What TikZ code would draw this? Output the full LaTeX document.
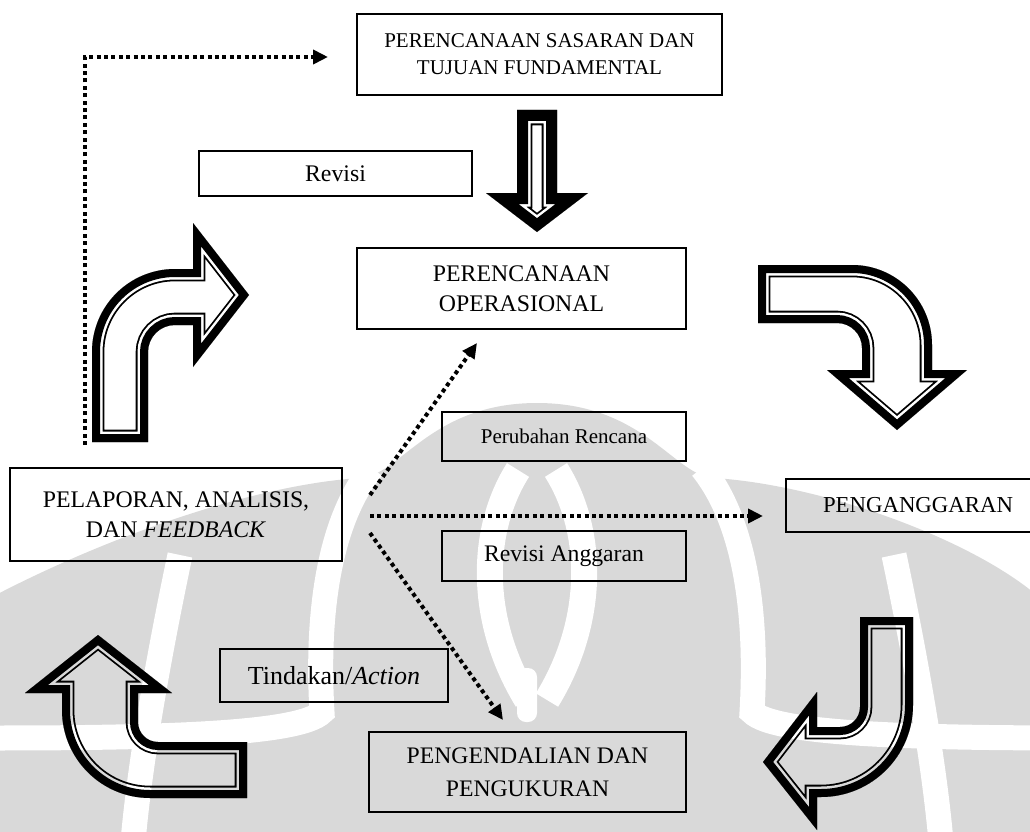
\documentclass[tikz,border=0pt]{standalone}
\usepackage{fontspec}
\setmainfont{Liberation Serif}
\usetikzlibrary{arrows.meta}
\newcommand\setfs[2]{\fontsize{#1}{#2}\selectfont}
% hollow block arrow: thick black rim, thin white gap, thin black inner line
\newcommand\hollowarrow[2]{%
  \begin{scope}
    \clip #2;
    \fill[white] #2;
    \draw[line width={2*(#1+4.3)}, line join=miter, miter limit=30] #2;
    \draw[white, line width={2*(#1+2.5)}, line join=miter, miter limit=30] #2;
    \draw[line width={2*#1}, line join=miter, miter limit=30] #2;
  \end{scope}}
\begin{document}
\begin{tikzpicture}[x=1pt,y=-1pt,
  box/.style={draw=black, line width=1.4pt, fill=white, inner sep=0pt, align=center},
  flow/.style={line width=4pt, dash pattern=on 4pt off 3.4pt,
               -{Triangle[length=15pt,width=14pt]}},
  band/.style={white, line width=25pt}
]
\useasboundingbox (0,0) rectangle (1030,832);
\clip (0,0) rectangle (1030,832);

% ---------- text boxes ----------
\node[box, minimum width=365pt, minimum height=81pt, font=\setfs{21}{27}] (goal) at (539.5,54.5)
  {PERENCANAAN SASARAN DAN\\TUJUAN FUNDAMENTAL};
\node[box, minimum width=273pt, minimum height=45pt, font=\setfs{23.8}{30}] (rev) at (335.5,173.5) {Revisi};
\node[box, minimum width=329pt, minimum height=81pt, font=\setfs{23.8}{30}] (ops) at (521.5,288.5)
  {PERENCANAAN\\OPERASIONAL};
\node[box, minimum width=332pt, minimum height=93pt, font=\setfs{23.8}{30}] (rep) at (176,514.5)
  {PELAPORAN, ANALISIS,\\DAN \textit{FEEDBACK}};
\node[box, minimum width=244pt, minimum height=49pt, font=\setfs{21}{26}] (chg) at (564,436.5) {Perubahan Rencana};
\node[box, minimum width=244pt, minimum height=50pt, font=\setfs{23.7}{30}] (brev) at (564,556) {Revisi Anggaran};
\node[box, minimum width=264pt, minimum height=53pt, font=\setfs{22.8}{28}] (bud) at (918,505.5) {PENGANGGARAN};
\node[box, minimum width=228pt, minimum height=53pt, font=\setfs{26}{32}] (act) at (334,675.5) {Tindakan/\textit{Action}};
\node[box, minimum width=317pt, minimum height=80pt, font=\setfs{23.7}{33}] (ctl) at (527.5,772)
  {PENGENDALIAN DAN\\PENGUKURAN};

% ---------- dotted feedback connectors ----------
\coordinate (fbA) at (85,445);
\coordinate (fbB) at (328,57);
\coordinate (s1) at (370,495);
\coordinate (e1) at (477,343);
\coordinate (s2) at (370,516);
\coordinate (e2) at (763,516);
\coordinate (s3) at (370,533);
\coordinate (e3) at (503,720);
\draw[flow] (fbA) |- (fbB);
\draw[flow] (s1) -- (e1);
\draw[flow] (s2) -- (e2);
\draw[flow] (s3) -- (e3);

% ---------- block arrows of the cycle ----------
% straight arrow: goals -> operational planning
\hollowarrow{11}{(517,110) -- (557,110) -- (557,193) -- (588,193) -- (537,232) -- (486,193) -- (517,193) -- cycle}
% turn right: reporting -> planning
\hollowarrow{8}{(92,442) -- (92,352) arc[start angle=180,end angle=270,radius=83] -- (193,269) -- (193,223)
  -- (249,295) -- (193,367) -- (193,325) -- (175,325) arc[start angle=270,end angle=180,radius=27] -- (148,442) -- cycle}
% turn down: planning -> budgeting
\hollowarrow{8}{(758,265) -- (852,265) arc[start angle=270,end angle=360,radius=80] -- (932,370) -- (967,370)
  -- (897,430) -- (827,370) -- (862,370) -- (862,348) arc[start angle=0,end angle=-90,radius=25] -- (758,323) -- cycle}
% hook left: budgeting -> control
\hollowarrow{8}{(860,617) -- (913,617) -- (913,705) arc[start angle=0,end angle=90,radius=92] -- (817,797)
  -- (817,830) -- (763,762) -- (817,692) -- (817,727) -- (840,727) arc[start angle=90,end angle=0,radius=20] -- cycle}
% turn up: control -> reporting
\hollowarrow{8}{(98,635) -- (172,693) -- (138,693) -- (138,722) arc[start angle=180,end angle=90,radius=20]
  -- (247,742) -- (247,798) -- (150,798) arc[start angle=90,end angle=180,radius=88] -- (62,693) -- (25,693) -- cycle}

% ---------- faint emblem in the background ----------
\begin{scope}[transparency group, blend mode=multiply]
  \fill[black!15] (-10,842) -- (-10,598) .. controls (100,540) and (250,485) .. (360,478)
    .. controls (400,476) and (430,403) .. (537,403) .. controls (644,403) and (674,476) .. (714,478)
    .. controls (824,485) and (974,540) .. (1040,598) -- (1040,842) -- cycle;
  \draw[band] (372,468) .. controls (330,520) and (316,610) .. (322,712) .. controls (300,735) and (150,738) .. (-10,738);
  \draw[band] (702,468) .. controls (744,520) and (758,610) .. (752,712) .. controls (774,735) and (924,738) .. (1084,738);
  \draw[band, line width=26pt] (518,470) .. controls (480,530) and (478,620) .. (527,700);
  \draw[band, line width=26pt] (556,470) .. controls (594,530) and (596,620) .. (547,700);
  \fill[white, rounded corners=9pt] (517,668) rectangle (537,722);
  \draw[band] (180,555) .. controls (160,650) and (140,760) .. (133,842);
  \draw[band] (894,555) .. controls (914,650) and (934,760) .. (941,842);
\end{scope}
\end{tikzpicture}
\end{document}
